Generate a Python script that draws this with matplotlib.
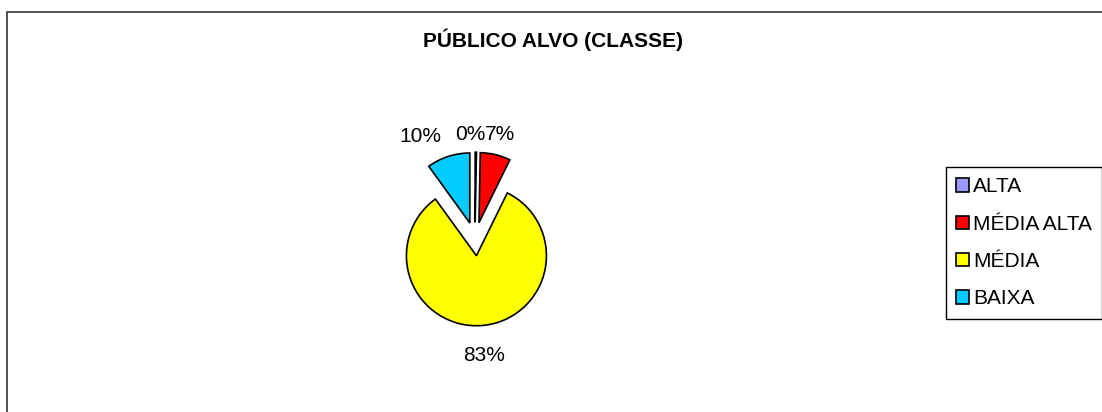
import matplotlib
matplotlib.use("Agg")
import numpy as np
import matplotlib.pyplot as plt
from matplotlib.patches import Rectangle

plt.rcParams['font.family'] = ['Liberation Sans', 'DejaVu Sans']

categories = ['ALTA', 'MÉDIA ALTA', 'MÉDIA', 'BAIXA']
values = [0.3, 7, 83, 10]
colors = ['#9999FF', '#FF0000', '#FFFF00', '#00CCFF']
title = 'PÚBLICO ALVO (CLASSE)'

W, H = 1102, 412
fig = plt.figure(figsize=(W / 100, H / 100), dpi=100)

# outer chart frame (cut off at right and bottom)
fig.patches.append(Rectangle((7 / W, -0.1), 2, 1 - 12 / H + 0.1, transform=fig.transFigure,
                             fill=False, edgecolor='#333333', linewidth=1.2, zorder=0))

r_px = 70
cx, cy = 475, 239
ax = fig.add_axes([(cx - 2 * r_px) / W, (H - cy - 2 * r_px) / H, 4 * r_px / W, 4 * r_px / H])
wedges, texts, autotexts = ax.pie(values, colors=colors, startangle=90, counterclock=False,
                                  explode=[0.24] * 4, autopct='%.0f%%', pctdistance=1.3,
                                  wedgeprops=dict(edgecolor='black', linewidth=1.2),
                                  textprops=dict(fontsize=15))
ax.set_xlim(-2, 2)
ax.set_ylim(-2, 2)
ax.set_aspect('equal')
ax.axis('off')

# excel-like alignment: labels on the left side are right aligned, bottom ones hang down
for w, t in zip(wedges, autotexts):
    t.set_clip_on(False)
    ang = np.deg2rad((w.theta1 + w.theta2) / 2)
    if np.cos(ang) < -0.3:
        t.set_horizontalalignment('right')
    elif np.cos(ang) > 0.3:
        t.set_horizontalalignment('left')
    if np.sin(ang) < -0.3:
        t.set_verticalalignment('top')

# pack the 0% label right next to the 7% label
fig.canvas.draw()
rend = fig.canvas.get_renderer()
bb = autotexts[1].get_window_extent(rend)
autotexts[0].set_horizontalalignment('right')
autotexts[0].set_transform(None)
autotexts[0].set_position((bb.x0, (bb.y0 + bb.y1) / 2))

fig.text(553 / W, 1 - 40 / H, title, ha='center', va='center', fontsize=15, fontweight='bold')

leg = fig.legend(wedges, categories, loc='upper left', bbox_to_anchor=(946 / W, 1 - 167 / H),
                 fontsize=15, frameon=True, fancybox=False, edgecolor='black', framealpha=1,
                 handlelength=0.6, handleheight=0.6, handletextpad=0.2, labelspacing=0.88,
                 borderpad=0.5, borderaxespad=0)
leg.get_frame().set_linewidth(1.0)

fig.savefig('out.png', dpi=100)
